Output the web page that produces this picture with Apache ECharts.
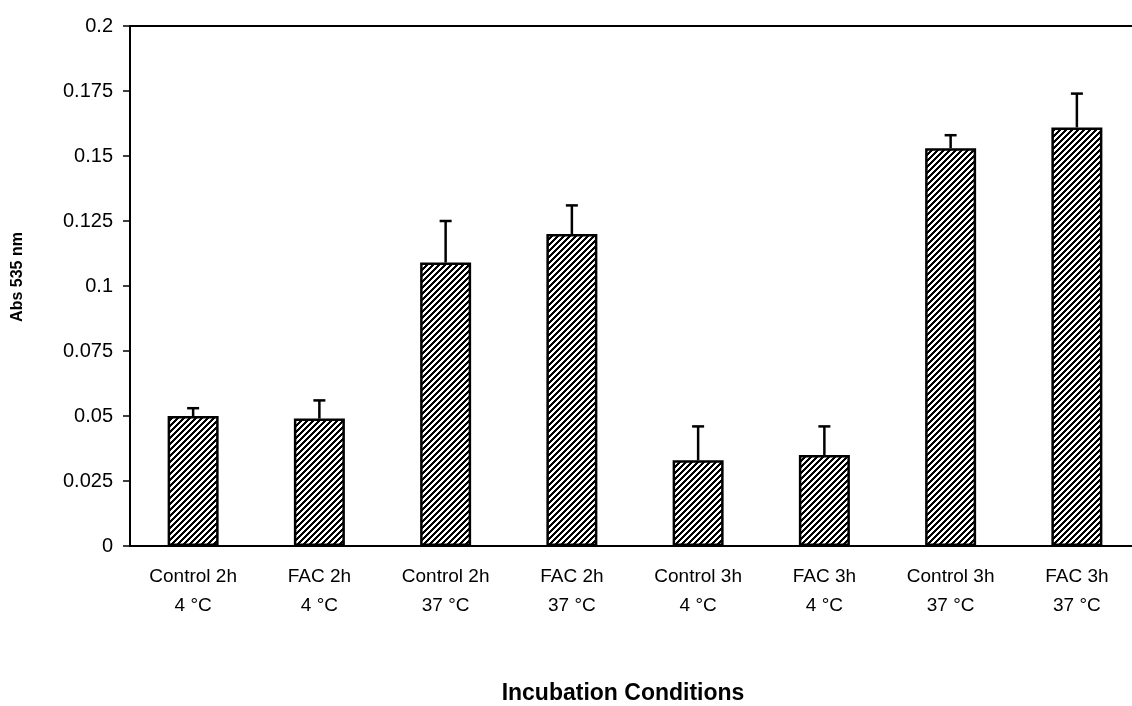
<!DOCTYPE html>
<html>
<head>
<meta charset="utf-8">
<script src="https://cdn.jsdelivr.net/npm/echarts@6/dist/echarts.min.js"></script>
<style>
html,body{margin:0;padding:0;background:#fff;overflow:hidden;}
#chart{width:1132px;height:706px;}
</style>
</head>
<body>
<div id="chart"></div>
<script>
const groups = ['Control 2h', 'FAC 2h', 'Control 2h', 'FAC 2h', 'Control 3h', 'FAC 3h', 'Control 3h', 'FAC 3h'];
const temps = ['4 °C', '4 °C', '37 °C', '37 °C', '4 °C', '4 °C', '37 °C', '37 °C'];
const values = [0.050, 0.049, 0.109, 0.120, 0.033, 0.035, 0.153, 0.161];
const errors = [0.003, 0.007, 0.016, 0.011, 0.013, 0.011, 0.005, 0.013];
const yTicks = { min: 0, max: 0.2, interval: 0.025 };

const categories = groups.map((g, i) => g + '\n' + temps[i]);

// hatch pattern (///), pixel-exact
const P = 6;
const pc = document.createElement('canvas');
pc.width = P; pc.height = P;
const ctx = pc.getContext('2d');
ctx.fillStyle = '#fff';
ctx.fillRect(0, 0, P, P);
ctx.fillStyle = '#000';
for (let x = 0; x < P; x++) {
  for (let y = 0; y < P; y++) {
    if ((x + y) % P < 3) ctx.fillRect(x, y, 1, 1);
  }
}

const chart = echarts.init(document.getElementById('chart'), null, { renderer: 'canvas' });

const errData = values.map((v, i) => [i, v, v + errors[i]]);

chart.setOption({
  backgroundColor: '#fff',
  animation: false,
  grid: {
    left: 130, width: 1010, top: 26, bottom: 160,
    containLabel: false,
    outerBoundsMode: 'none',
    show: true, borderColor: '#000', borderWidth: 2, backgroundColor: 'transparent'
  },
  xAxis: {
    type: 'category',
    data: categories,
    name: 'Incubation Conditions',
    nameLocation: 'middle',
    nameGap: 136,
    nameTextStyle: { fontFamily: 'Liberation Sans', fontWeight: 'bold', fontSize: 23, color: '#000', padding: [0, 24, 0, 0] },
    axisLine: { lineStyle: { color: '#000', width: 2 } },
    axisTick: { show: false },
    axisLabel: {
      interval: 0, margin: 16, fontFamily: 'Liberation Sans', fontSize: 19, color: '#000', lineHeight: 29
    }
  },
  yAxis: {
    type: 'value',
    min: yTicks.min, max: yTicks.max, interval: yTicks.interval,
    name: 'Abs 535 nm',
    nameLocation: 'middle',
    nameGap: 104,
    nameRotate: 90,
    nameTextStyle: { fontFamily: 'Liberation Sans', fontWeight: 'bold', fontSize: 16, color: '#000', padding: [0, 0, 0, 18] },
    axisLine: { show: true, lineStyle: { color: '#000', width: 2 } },
    axisTick: { show: true, length: 7, lineStyle: { color: '#000', width: 1.5 } },
    splitLine: { show: false },
    axisLabel: { margin: 17, fontFamily: 'Liberation Sans', fontSize: 20, color: '#000' }
  },
  series: [
    {
      type: 'bar',
      data: values,
      barWidth: 51,
      itemStyle: {
        color: { image: pc, repeat: 'repeat' },
        borderColor: '#000',
        borderWidth: 2.5
      },
      z: 2
    },
    {
      type: 'custom',
      data: errData,
      z: 3,
      renderItem: function (params, api) {
        const x = api.value(0);
        const p0 = api.coord([x, api.value(1)]);
        const p1 = api.coord([x, api.value(2)]);
        const hw = 6;
        return {
          type: 'group',
          children: [
            { type: 'line', shape: { x1: p0[0], y1: p0[1], x2: p1[0], y2: p1[1] }, style: { stroke: '#000', lineWidth: 2.5 } },
            { type: 'line', shape: { x1: p1[0] - hw, y1: p1[1], x2: p1[0] + hw, y2: p1[1] }, style: { stroke: '#000', lineWidth: 2.5 } }
          ]
        };
      }
    }
  ]
});
</script>
</body>
</html>
